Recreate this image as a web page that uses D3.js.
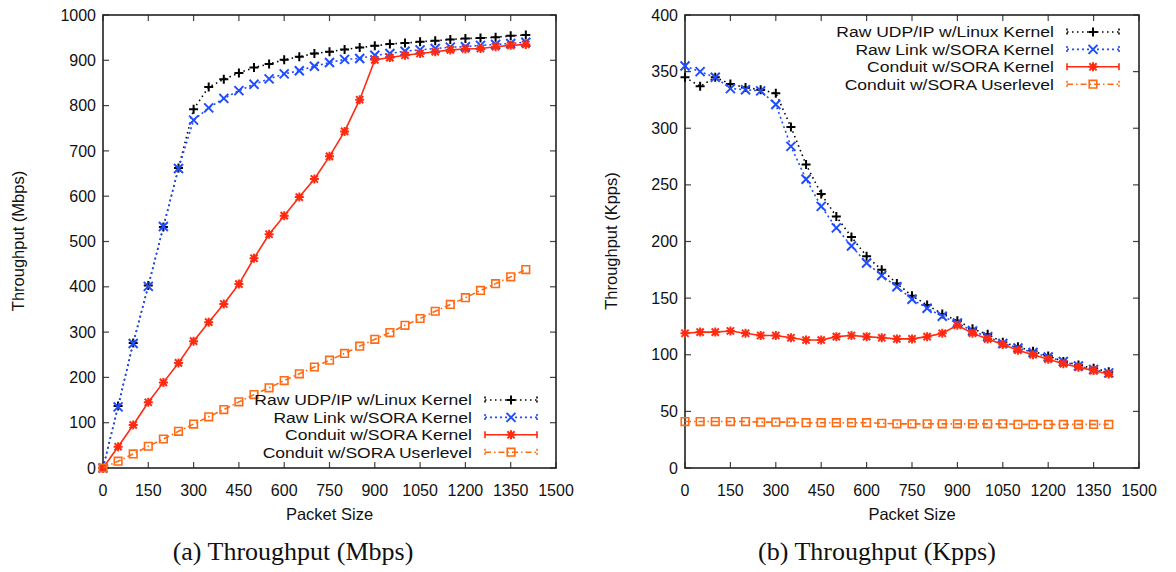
<!DOCTYPE html>
<html>
<head>
<meta charset="utf-8">
<script src="https://cdn.jsdelivr.net/npm/d3@7"></script>
<style>
  body { margin: 0; background: #fff; }
  svg text { font-family: "Liberation Sans", Arial, sans-serif; fill: #111; }
  .caption { font-family: "Liberation Serif", "Times New Roman", serif; }
</style>
</head>
<body>
<svg id="chart" width="1176" height="572"></svg>
<script>
// packet sizes (x values shared by every series)
var packetSizes = [0, 50, 100, 150, 200, 250, 300, 350, 400, 450, 500, 550, 600, 650, 700,
                   750, 800, 850, 900, 950, 1000, 1050, 1100, 1150, 1200, 1250, 1300, 1350, 1400];

var seriesNames = ["Raw UDP/IP w/Linux Kernel", "Raw Link w/SORA Kernel",
                   "Conduit w/SORA Kernel", "Conduit w/SORA Userlevel"];

// (a) throughput in Mbps
var mbpsLinux = [0, 137, 276, 403, 532, 662, 792, 841, 858, 872, 884, 892, 901, 908, 915,
                 919, 924, 928, 932, 936, 938, 941, 943, 946, 948, 949, 951, 954, 956];
var mbpsSoraRaw = [0, 135, 275, 401, 533, 661, 768, 795, 816, 833, 847, 859, 870, 877, 887,
                   895, 902, 904, 911, 915, 920, 923, 926, 929, 930, 933, 935, 937, 940];
var mbpsConduitKernel = [0, 47, 95, 145, 189, 232, 280, 322, 362, 406, 463, 516, 557, 598, 638,
                         688, 743, 813, 901, 906, 911, 915, 919, 923, 925, 926, 930, 933, 935];
var mbpsConduitUser = [0, 15, 31, 48, 64, 81, 97, 113, 129, 146, 162, 177, 193, 208, 223,
                       238, 253, 269, 284, 299, 315, 330, 346, 361, 376, 392, 407, 422, 438];

// (b) throughput in Kpps
var kppsLinux = [345, 337, 345, 339, 336, 334, 331, 301, 268, 242, 222, 204, 187, 175, 163,
                 152, 144, 136, 130, 123, 118, 111, 107, 103, 99, 94, 91, 88, 85];
var kppsSoraRaw = [355, 350, 345, 335, 334, 333, 321, 284, 255, 231, 212, 196, 181, 170, 160,
                   149, 141, 134, 128, 121, 116, 110, 106, 102, 98, 94, 90, 87, 84];
var kppsConduitKernel = [119, 120, 120, 121, 119, 117, 117, 115, 113, 113, 116, 117, 116, 115, 114,
                         114, 116, 119, 126, 119, 114, 109, 104, 100, 96, 92, 89, 86, 83];
var kppsConduitUser = [41, 41, 41, 41, 41, 40.5, 40.5, 40.5, 40, 40, 40, 40, 40, 39.5, 39,
                       39, 39, 39, 39, 39, 39, 39, 38.5, 38.5, 38.5, 38.5, 38.5, 38.5, 38.5];

var xTicks = [0, 150, 300, 450, 600, 750, 900, 1050, 1200, 1350, 1500];
var mbpsTicks = [0, 100, 200, 300, 400, 500, 600, 700, 800, 900, 1000];
var kppsTicks = [0, 50, 100, 150, 200, 250, 300, 350, 400];

// line look for each series: colour, dash, marker
var styles = [
  { color: "#000000", dash: "1.5,3.5", marker: "plus" },
  { color: "#1f4dff", dash: "2,3", marker: "cross" },
  { color: "#ff2a10", dash: null, marker: "star" },
  { color: "#ff6a14", dash: "6,3,1.5,3", marker: "square" }
];

function markerPath(type, r) {
  if (type == "plus") return "M" + (-r) + ",0H" + r + "M0," + (-r) + "V" + r;
  if (type == "cross") return "M" + (-r) + "," + (-r) + "L" + r + "," + r + "M" + (-r) + "," + r + "L" + r + "," + (-r);
  if (type == "star") return markerPath("plus", r) + markerPath("cross", r * 0.8);
  return "M" + (-r) + "," + (-r) + "H" + r + "V" + r + "H" + (-r) + "Z";
}

var svg = d3.select("#chart");

function drawPanel(p) {
  var x = d3.scaleLinear().domain([0, 1500]).range([p.left, p.right]);
  var y = d3.scaleLinear().domain([0, p.yMax]).range([468, 15]);
  var g = svg.append("g");

  // y tick marks (left and mirrored right) and labels
  p.yTicks.forEach(function(t) {
    g.append("line").attr("x1", p.left).attr("x2", p.left + 6)
      .attr("y1", y(t)).attr("y2", y(t)).attr("stroke", "#444").attr("stroke-width", 1.2);
    g.append("line").attr("x1", p.right).attr("x2", p.right - 6)
      .attr("y1", y(t)).attr("y2", y(t)).attr("stroke", "#444").attr("stroke-width", 1.2);
    g.append("text").attr("x", p.left - 7).attr("y", y(t))
      .attr("dy", "0.35em").attr("text-anchor", "end")
      .style("font-size", "16px").text(t);
  });

  // x tick marks (bottom and mirrored top) and labels
  xTicks.forEach(function(t) {
    g.append("line").attr("x1", x(t)).attr("x2", x(t))
      .attr("y1", 468).attr("y2", 462).attr("stroke", "#444").attr("stroke-width", 1.2);
    g.append("line").attr("x1", x(t)).attr("x2", x(t))
      .attr("y1", 15).attr("y2", 21).attr("stroke", "#444").attr("stroke-width", 1.2);
    g.append("text").attr("x", x(t)).attr("y", 490)
      .attr("dy", "0.35em").attr("text-anchor", "middle")
      .style("font-size", "16px").text(t);
  });

  // frame
  g.append("rect").attr("x", p.left).attr("y", 15)
    .attr("width", p.right - p.left).attr("height", 453)
    .attr("fill", "none").attr("stroke", "#222").attr("stroke-width", 1.6);

  // axis titles
  g.append("text").attr("x", (p.left + p.right) / 2).attr("y", 514)
    .attr("dy", "0.35em").attr("text-anchor", "middle")
    .style("font-size", "16.5px").text("Packet Size");
  g.append("text")
    .attr("transform", "translate(" + p.yTitleX + ",241) rotate(-90)")
    .attr("dy", "0.35em").attr("text-anchor", "middle")
    .style("font-size", "16.5px").text(p.yTitle);

  // caption
  g.append("text").attr("class", "caption")
    .attr("x", p.captionX).attr("y", 560)
    .attr("text-anchor", "middle")
    .style("font-size", "26px").text(p.caption);

  var line = d3.line()
    .x(function(d) { return x(d[0]); })
    .y(function(d) { return y(d[1]); });

  p.series.forEach(function(values, i) {
    var st = styles[i];
    var pts = packetSizes.map(function(s, k) { return [s, values[k]]; });
    g.append("path").datum(pts)
      .attr("d", line)
      .attr("fill", "none")
      .attr("stroke", st.color)
      .attr("stroke-width", 1.6)
      .attr("stroke-dasharray", st.dash);
    g.selectAll(".m" + i).data(pts).enter().append("path")
      .attr("class", "m" + i)
      .attr("transform", function(d) { return "translate(" + x(d[0]) + "," + y(d[1]) + ")"; })
      .attr("d", markerPath(st.marker, st.marker == "square" ? 3.8 : 4.5))
      .attr("fill", "none")
      .attr("stroke", st.color)
      .attr("stroke-width", st.marker == "square" ? 1.6 : 2);
  });

  // legend (text a bit wider than the font, like the original face)
  seriesNames.forEach(function(name, i) {
    var st = styles[i];
    var ly = p.legendY + i * 17.4;
    var lt = g.append("text").attr("x", p.legendTextX).attr("y", ly)
      .attr("dy", "0.35em").attr("text-anchor", "end")
      .style("font-size", "15.5px").text(name);
    var w = lt.node().getComputedTextLength();
    lt.attr("textLength", w * 1.13).attr("lengthAdjust", "spacingAndGlyphs");
    var x1 = p.legendTextX + 13, x2 = x1 + 52;
    g.append("line").attr("x1", x1).attr("x2", x2).attr("y1", ly).attr("y2", ly)
      .attr("stroke", st.color).attr("stroke-width", 1.6)
      .attr("stroke-dasharray", st.dash);
    [x1, x2].forEach(function(ex) {
      g.append("line").attr("x1", ex).attr("x2", ex).attr("y1", ly - 3.5).attr("y2", ly + 3.5)
        .attr("stroke", st.color).attr("stroke-width", 1.6)
        .attr("stroke-dasharray", st.dash ? "2,2" : null);
    });
    g.append("path")
      .attr("transform", "translate(" + ((x1 + x2) / 2) + "," + ly + ")")
      .attr("d", markerPath(st.marker, st.marker == "square" ? 3.8 : 4.5))
      .attr("fill", "none").attr("stroke", st.color)
      .attr("stroke-width", st.marker == "square" ? 1.6 : 2);
  });
}

drawPanel({
  left: 103, right: 556, yMax: 1000, yTicks: mbpsTicks,
  yTitle: "Throughput (Mbps)", yTitleX: 18,
  caption: "(a) Throughput (Mbps)", captionX: 293,
  series: [mbpsLinux, mbpsSoraRaw, mbpsConduitKernel, mbpsConduitUser],
  legendTextX: 472, legendY: 400
});

drawPanel({
  left: 685, right: 1139, yMax: 400, yTicks: kppsTicks,
  yTitle: "Throughput (Kpps)", yTitleX: 611,
  caption: "(b) Throughput (Kpps)", captionX: 877,
  series: [kppsLinux, kppsSoraRaw, kppsConduitKernel, kppsConduitUser],
  legendTextX: 1054, legendY: 32
});
</script>
</body>
</html>
